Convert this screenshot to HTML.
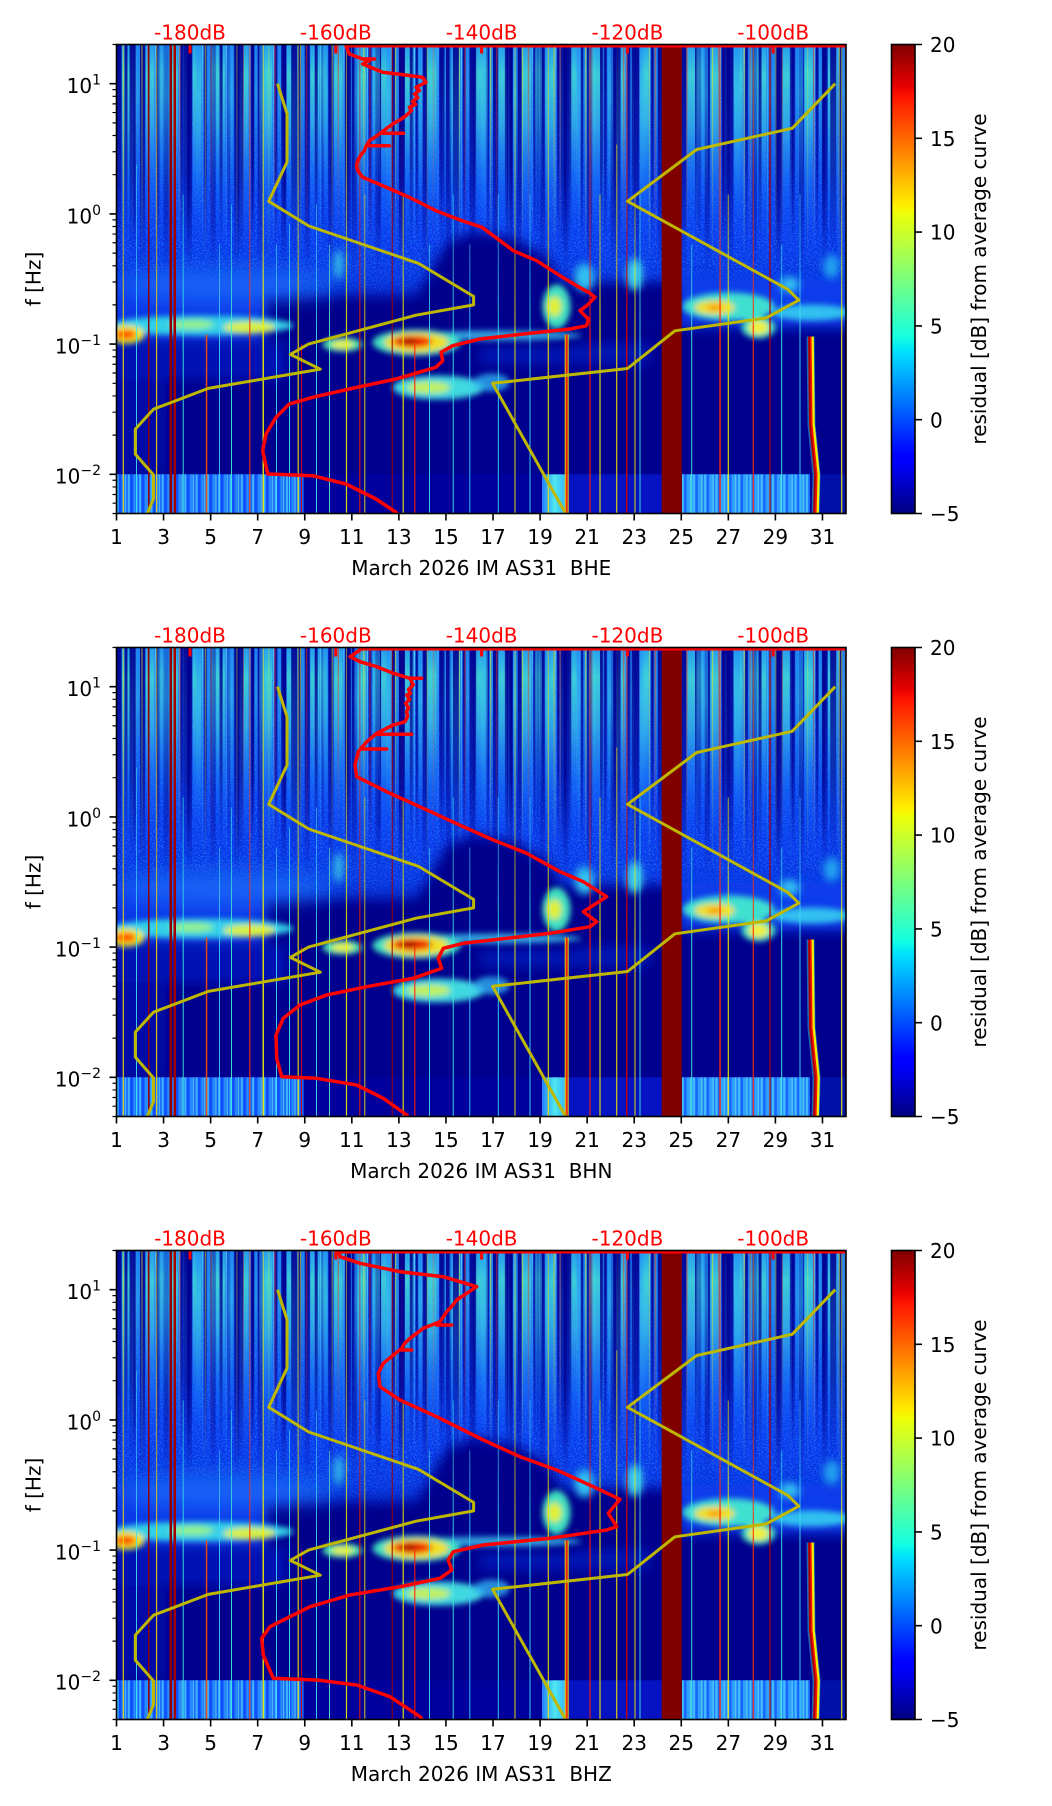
<!DOCTYPE html>
<html><head><meta charset="utf-8"><style>
html,body{margin:0;padding:0;background:#fff;}
svg{display:block;}
text{font-family:"DejaVu Sans","Liberation Sans",sans-serif;}
</style></head><body>
<svg xmlns="http://www.w3.org/2000/svg" width="1052" height="1806" viewBox="0 0 1052 1806">
<defs>
<clipPath id="clipAx"><rect x="0" y="0" width="729.5" height="469"/></clipPath>
<filter id="b3" x="-20%" y="-50%" width="140%" height="200%"><feGaussianBlur stdDeviation="3"/></filter>
<filter id="b4" x="-20%" y="-50%" width="140%" height="200%"><feGaussianBlur stdDeviation="4"/></filter>
<filter id="b6" x="-20%" y="-50%" width="140%" height="200%"><feGaussianBlur stdDeviation="6"/></filter>
<filter id="b10" x="-20%" y="-50%" width="140%" height="200%"><feGaussianBlur stdDeviation="10"/></filter>
<filter id="speck" x="0" y="0" width="1" height="1" color-interpolation-filters="sRGB">
 <feTurbulence type="fractalNoise" baseFrequency="0.7" numOctaves="1" seed="7" result="n"/>
 <feColorMatrix in="n" type="matrix" values="0 0 0 0 0.15  0 0 0 0 0.65  0 0 0 0 1  3 0 0 0 -1.3" result="c"/>
 <feComposite in="c" in2="SourceGraphic" operator="in"/>
</filter>
<linearGradient id="jet" x1="0" y1="1" x2="0" y2="0">
 <stop offset="0" stop-color="#000080"/><stop offset="0.11" stop-color="#0000ff"/><stop offset="0.125" stop-color="#0000ff"/>
 <stop offset="0.34" stop-color="#00dbff"/><stop offset="0.35" stop-color="#00e5f7"/><stop offset="0.375" stop-color="#14ffe2"/>
 <stop offset="0.5" stop-color="#7bff7b"/><stop offset="0.64" stop-color="#eeff08"/><stop offset="0.65" stop-color="#f7f500"/>
 <stop offset="0.66" stop-color="#ffec00"/><stop offset="0.89" stop-color="#ff1300"/><stop offset="0.91" stop-color="#e80000"/>
 <stop offset="1" stop-color="#800000"/>
</linearGradient>
<linearGradient id="gUpper" x1="0" y1="0" x2="0" y2="1">
 <stop offset="0" stop-color="#1450e0"/><stop offset="0.5" stop-color="#0c3cf0"/><stop offset="0.7" stop-color="#0a34ec"/>
 <stop offset="0.82" stop-color="#0830e0"/><stop offset="0.92" stop-color="#0628d0" stop-opacity="0.8"/><stop offset="1" stop-color="#0020c0" stop-opacity="0"/>
</linearGradient>
<linearGradient id="gDark" x1="0" y1="0" x2="0" y2="1">
 <stop offset="0" stop-color="#000090" stop-opacity="0.9"/><stop offset="0.6" stop-color="#000090" stop-opacity="0.6"/><stop offset="1" stop-color="#000090" stop-opacity="0"/>
</linearGradient>
<linearGradient id="gCyan" x1="0" y1="0" x2="0" y2="1">
 <stop offset="0" stop-color="#28a8f0" stop-opacity="0.85"/><stop offset="0.15" stop-color="#40d8d8" stop-opacity="0.9"/>
 <stop offset="0.4" stop-color="#38c0e8" stop-opacity="0.75"/><stop offset="0.7" stop-color="#1878f8" stop-opacity="0.5"/><stop offset="1" stop-color="#0850ff" stop-opacity="0"/>
</linearGradient>
<linearGradient id="gCyan2" x1="0" y1="0" x2="0" y2="1">
 <stop offset="0" stop-color="#2090f8" stop-opacity="0.7"/><stop offset="0.3" stop-color="#30b8f0" stop-opacity="0.6"/><stop offset="1" stop-color="#2090f8" stop-opacity="0"/>
</linearGradient>
<linearGradient id="gCLine" x1="0" y1="0" x2="0" y2="1">
 <stop offset="0" stop-color="#60f0ff" stop-opacity="0.8"/><stop offset="1" stop-color="#60f0ff" stop-opacity="0"/>
</linearGradient>
<linearGradient id="gYLine" x1="0" y1="0" x2="0" y2="1">
 <stop offset="0" stop-color="#f0f000" stop-opacity="0.7"/><stop offset="1" stop-color="#f0f000" stop-opacity="0"/>
</linearGradient>
<linearGradient id="gRLine" x1="0" y1="0" x2="0" y2="1">
 <stop offset="0" stop-color="#ff3000" stop-opacity="0.6"/><stop offset="1" stop-color="#ff3000" stop-opacity="0"/>
</linearGradient>
<linearGradient id="gSpeck" x1="0" y1="0" x2="0" y2="1">
 <stop offset="0" stop-color="#fff" stop-opacity="0.6"/><stop offset="0.75" stop-color="#fff" stop-opacity="0.7"/><stop offset="1" stop-color="#fff" stop-opacity="0"/>
</linearGradient>
<linearGradient id="gMask" x1="0" y1="0" x2="0" y2="1">
 <stop offset="0" stop-color="#888"/><stop offset="0.45" stop-color="#aaa"/><stop offset="0.62" stop-color="#fff"/><stop offset="1" stop-color="#fff"/>
</linearGradient>
<mask id="mLines" maskUnits="userSpaceOnUse" x="0" y="0" width="729.5" height="469">
 <rect x="0" y="0" width="729.5" height="469" fill="url(#gMask)"/>
</mask>
<linearGradient id="gCyanStrip" x1="0" y1="0" x2="1" y2="0">
 <stop offset="0" stop-color="#2080ff"/><stop offset="0.5" stop-color="#50e8f0"/><stop offset="1" stop-color="#30b0ff"/>
</linearGradient>
<pattern id="pStreak" patternUnits="userSpaceOnUse" x="0" y="0" width="23.53" height="469">
 <rect x="0" y="0" width="5" height="230" fill="url(#gDark)"/>
 <rect x="5.5" y="0" width="9" height="200" fill="url(#gCyan)"/>
 <rect x="15" y="0" width="1.2" height="210" fill="url(#gCLine)"/>
 <rect x="17" y="0" width="2.5" height="200" fill="url(#gDark)"/>
 <rect x="20" y="0" width="3.5" height="160" fill="url(#gCyan2)"/>
</pattern>
<pattern id="pStreak2" patternUnits="userSpaceOnUse" x="5" y="0" width="31.7" height="469">
 <rect x="3" y="0" width="3" height="200" fill="url(#gDark)"/>
 <rect x="11" y="0" width="5" height="170" fill="url(#gCyan2)"/>
 <rect x="20" y="0" width="1" height="220" fill="url(#gYLine)"/>
 <rect x="26" y="0" width="1.2" height="200" fill="url(#gRLine)"/>
</pattern>
<pattern id="pStreak3" patternUnits="userSpaceOnUse" x="11" y="0" width="53.9" height="469">
 <rect x="2" y="0" width="6" height="215" fill="url(#gDark)"/>
 <rect x="30" y="0" width="7" height="180" fill="url(#gCyan)" opacity="0.6"/>
</pattern>
<pattern id="pCols" patternUnits="userSpaceOnUse" x="0" y="0" width="11.3" height="469">
 <rect x="0" y="0" width="2" height="469" fill="#50d0ff"/>
 <rect x="2.5" y="0" width="2.5" height="469" fill="#0840ff"/>
 <rect x="6" y="0" width="1.5" height="469" fill="#30a0ff"/>
 <rect x="8.5" y="0" width="1" height="469" fill="#70f0e0"/>
 <rect x="10" y="0" width="1.3" height="469" fill="#1060ff"/>
</pattern>

<g id="spec" clip-path="url(#clipAx)">
 <rect width="729.5" height="469" fill="#00008e"/>
 <rect width="729.5" height="285" fill="url(#gUpper)"/>
 <rect width="729.5" height="290" fill="url(#gSpeck)" filter="url(#speck)" opacity="0.8"/>
 <rect width="729.5" height="235" fill="url(#pStreak)"/>
 <rect width="729.5" height="235" fill="url(#pStreak2)"/>
 <rect width="729.5" height="235" fill="url(#pStreak3)"/>
 <g filter="url(#b6)">
  <rect x="-10" y="235" width="185" height="62" fill="#0a3cf0" opacity="0.85"/>
  <rect x="-10" y="300" width="180" height="35" fill="#0020d0" opacity="0.6"/>
  <rect x="560" y="235" width="180" height="48" fill="#0a40f0" opacity="0.85"/>
  <rect x="363" y="298" width="170" height="22" fill="#0828d8" opacity="0.5"/>
  <rect x="-10" y="335" width="60" height="95" fill="#0018c0" opacity="0.5"/>
 </g>
 <path d="M150,252 L300,252 L330,198 L360,186 L400,195 L430,212 L445,238 L560,238 L560,282 L460,290 L460,300 L150,300 Z" fill="#00008c" filter="url(#b6)"/>
 <g filter="url(#b10)">
  <ellipse cx="110" cy="240" rx="110" ry="18" fill="#2080ff" opacity="0.55"/>
 </g>
 <g filter="url(#b4)">
  <ellipse cx="222" cy="220" rx="5" ry="15" fill="#40d8e8" opacity="0.8"/>
  <ellipse cx="468" cy="233" rx="10" ry="14" fill="#30c0f0"/>
  <ellipse cx="518" cy="230" rx="8" ry="16" fill="#40d0e8"/>
  <ellipse cx="715" cy="222" rx="8" ry="12" fill="#20a0f0"/>
  <ellipse cx="673" cy="240" rx="10" ry="8" fill="#30c0f0"/>
 </g>
 <g filter="url(#b3)">
  <ellipse cx="85" cy="281" rx="92" ry="10" fill="#30d0e8"/>
  <ellipse cx="133" cy="283" rx="26" ry="6" fill="#d8f040"/>
  <ellipse cx="75" cy="280" rx="22" ry="5" fill="#90f090"/>
  <ellipse cx="10" cy="290" rx="18" ry="9" fill="#f0f020"/>
  <ellipse cx="9" cy="290" rx="11" ry="5" fill="#ff5000"/>
  <ellipse cx="380" cy="291" rx="85" ry="5" fill="#40c8f0" opacity="0.8"/>
  <ellipse cx="226" cy="300" rx="20" ry="7" fill="#50e8b0"/>
  <ellipse cx="226" cy="300" rx="11" ry="4" fill="#e8f040"/>
  <ellipse cx="300" cy="298" rx="44" ry="13" fill="#40e0c0"/>
  <ellipse cx="300" cy="298" rx="32" ry="10" fill="#f0e020"/>
  <ellipse cx="296" cy="297" rx="20" ry="6" fill="#f02000"/>
  <ellipse cx="292" cy="297" rx="9" ry="3" fill="#a00000"/>
  <ellipse cx="322" cy="343" rx="46" ry="12" fill="#40d8e0"/>
  <ellipse cx="312" cy="343" rx="22" ry="6" fill="#c0f060"/>
  <ellipse cx="375" cy="338" rx="18" ry="9" fill="#30b0f0" opacity="0.8"/>
  <ellipse cx="440" cy="262" rx="14" ry="22" fill="#40e0c0"/>
  <ellipse cx="438" cy="262" rx="7" ry="10" fill="#e0f030"/>
  <ellipse cx="612" cy="262" rx="46" ry="14" fill="#40e0d0"/>
  <ellipse cx="598" cy="263" rx="20" ry="7" fill="#f0e020"/>
  <ellipse cx="598" cy="263" rx="7" ry="3" fill="#ff9000"/>
  <ellipse cx="695" cy="268" rx="40" ry="8" fill="#30c0f0"/>
  <ellipse cx="642" cy="283" rx="17" ry="11" fill="#40e0c0"/>
  <ellipse cx="642" cy="283" rx="10" ry="7" fill="#f0f040"/>
 </g>
 <!-- bottom strip -->
 <rect x="0" y="429.8" width="187" height="40" fill="#1c70ff"/>
 <rect x="0" y="429.8" width="187" height="40" fill="url(#pCols)" opacity="0.7"/>
 <rect x="187" y="429.8" width="238.5" height="40" fill="#0000b8" opacity="0.35"/>
 <rect x="425.5" y="429.8" width="25" height="40" fill="url(#gCyanStrip)"/>
 <rect x="450.5" y="429.8" width="95" height="40" fill="#0818d0" opacity="0.8"/>
 <rect x="565.5" y="429.8" width="128" height="40" fill="#30a0ff"/>
 <rect x="565.5" y="429.8" width="128" height="40" fill="url(#pCols)" opacity="0.6"/>
 <rect x="701" y="429.8" width="28.5" height="40" fill="#0010a8"/>
 <!-- thin lines -->
 <g opacity="0.9" mask="url(#mLines)">
  <rect x="6.2" y="0" width="1.2" height="469" fill="#f0e000"/>
  <rect x="19.5" y="120" width="1" height="349" fill="#40e0f0"/>
  <rect x="39.5" y="0" width="1.2" height="469" fill="#f0d000"/>
  <rect x="66.2" y="150" width="1" height="319" fill="#40f0e0"/>
  <rect x="89.3" y="290" width="1.5" height="179" fill="#ff5000"/>
  <rect x="102.5" y="200" width="1" height="269" fill="#40d0ff"/>
  <rect x="114.5" y="160" width="1" height="309" fill="#40f0d0"/>
  <rect x="132.7" y="0" width="1.2" height="469" fill="#ff3000"/>
  <rect x="146" y="0" width="1.5" height="469" fill="#f0f000"/>
  <rect x="159.5" y="200" width="1" height="269" fill="#40e0ff"/>
  <rect x="172.5" y="180" width="1" height="289" fill="#40f0e0"/>
  <rect x="181.1" y="0" width="1.2" height="469" fill="#f0e000"/>
  <rect x="184.5" y="300" width="1" height="169" fill="#e00000"/>
  <rect x="199.5" y="160" width="1" height="309" fill="#40e0f0"/>
  <rect x="212.5" y="200" width="1" height="269" fill="#60f0c0"/>
  <rect x="229.4" y="0" width="1.2" height="469" fill="#f0f000"/>
  <rect x="242.7" y="0" width="1.2" height="469" fill="#e02000"/>
  <rect x="247.8" y="150" width="1" height="319" fill="#f0e000"/>
  <rect x="286.1" y="150" width="1.2" height="319" fill="#f0f000"/>
  <rect x="297.7" y="300" width="1.2" height="169" fill="#ff2000"/>
  <rect x="312.5" y="200" width="1" height="269" fill="#40e0f0"/>
  <rect x="336.2" y="150" width="1" height="319" fill="#40f0e0"/>
  <rect x="352.8" y="200" width="1" height="269" fill="#40d0ff"/>
  <rect x="381.3" y="150" width="1" height="319" fill="#40e0f0"/>
  <rect x="398" y="0" width="1" height="469" fill="#f0f000"/>
  <rect x="413" y="150" width="1" height="319" fill="#40e0f0"/>
  <rect x="431.2" y="0" width="1.2" height="469" fill="#f0e000"/>
  <rect x="448.2" y="290" width="4" height="179" fill="#f0e000"/>
  <rect x="449.2" y="290" width="2" height="179" fill="#ff2000"/>
  <rect x="472.9" y="0" width="1.2" height="469" fill="#ff2000"/>
  <rect x="482.9" y="150" width="1.2" height="319" fill="#f0f000"/>
  <rect x="499.6" y="100" width="1.2" height="369" fill="#f0e000"/>
  <rect x="509.5" y="0" width="1.5" height="469" fill="#d00000"/>
  <rect x="518" y="150" width="1" height="319" fill="#f0f000"/>
  <rect x="523" y="150" width="1" height="319" fill="#40f0e0"/>
  <rect x="574.7" y="200" width="1" height="269" fill="#40f0e0"/>
  <rect x="602.8" y="0" width="1.5" height="469" fill="#ff3000"/>
  <rect x="611.2" y="150" width="1.2" height="319" fill="#f0f000"/>
  <rect x="636.2" y="0" width="1.2" height="469" fill="#ff3000"/>
  <rect x="664.7" y="200" width="1" height="269" fill="#40f0e0"/>
  <rect x="683" y="150" width="1" height="319" fill="#40e0f0"/>
  <rect x="724.6" y="0" width="1.2" height="469" fill="#f0f000"/>
 </g>
 <!-- dark red lines and stripe -->
 <rect x="31.5" y="0" width="1.5" height="469" fill="#900000"/>
 <rect x="53" y="0" width="2.5" height="469" fill="#900000"/>
 <rect x="57" y="0" width="2.5" height="469" fill="#a00000"/>
 <rect x="275.2" y="0" width="1" height="469" fill="#a00000"/>
 <rect x="652.9" y="0" width="1.2" height="469" fill="#b00000"/>
 <rect x="545.2" y="0" width="20" height="469" fill="#800000"/>
 <!-- day 30.7 line -->
 <path d="M694,292 L695,380 L698,410 L700,430 L699,470" fill="none" stroke="#40e0e0" stroke-width="8" opacity="0.45"/>
 <path d="M694.8,292 L695.8,380 L698.8,410 L700.8,430 L699.8,470" fill="none" stroke="#f0f000" stroke-width="5"/>
 <path d="M693.3,292 L694.3,380 L697.3,410 L699.3,430 L698.3,470" fill="none" stroke="#ff1000" stroke-width="3.5"/>
 <path d="M692.6,292 L693.6,380 L696.6,410 L698.6,430 L697.6,470" fill="none" stroke="#a00000" stroke-width="1.6"/>
</g>

<g id="nm" clip-path="url(#clipAx)" fill="none" stroke="#bfb800" stroke-width="3" stroke-linejoin="round">
 <polyline points="161.0,39.2 170.5,69.2 170.5,117.6 152.2,156.8 192.3,181.5 302.1,218.9 357.1,251.9 357.1,260.4 299.5,270.7 192.0,299.6 173.8,309.9 203.8,324.7 91.7,343.9 37.0,364.7 18.8,384.6 18.8,409.6 37.0,430.4 37.0,454.2 30.8,469.0"/>
 <polyline points="718.7,39.2 675.7,83.8 580.2,105.0 511.0,156.8 671.4,244.9 682.3,255.7 649.5,273.5 558.4,286.3 511.0,324.0 376.1,338.8 449.1,469.0"/>
</g>

<g id="axdec">
 <g fill="#ff0000">
  <rect x="72" y="0" width="3" height="9"/><rect x="217.8" y="0" width="3" height="9"/><rect x="363.6" y="0" width="3" height="9"/><rect x="509.4" y="0" width="3" height="9"/><rect x="655.2" y="0" width="3" height="9"/>
 </g>
 <path d="M0,469v7M47.06,469v7M94.13,469v7M141.19,469v7M188.26,469v7M235.32,469v7M282.39,469v7M329.45,469v7M376.52,469v7M423.58,469v7M470.65,469v7M517.71,469v7M564.77,469v7M611.84,469v7M658.9,469v7M705.97,469v7M0,39.19h-7M0,169.39h-7M0,299.59h-7M0,429.79h-7" stroke="#000" stroke-width="1.6" fill="none"/>
 <path d="M0,0h-4M0,45.16h-4M0,51.82h-4M0,59.37h-4M0,68.08h-4M0,78.39h-4M0,91.03h-4M0,107.27h-4M0,130.2h-4M0,175.36h-4M0,182.02h-4M0,189.57h-4M0,198.28h-4M0,208.59h-4M0,221.23h-4M0,237.47h-4M0,260.4h-4M0,305.56h-4M0,312.22h-4M0,319.77h-4M0,328.48h-4M0,338.79h-4M0,351.43h-4M0,367.67h-4M0,390.6h-4M0,435.76h-4M0,442.42h-4M0,449.97h-4M0,458.68h-4M0,469h-4" stroke="#000" stroke-width="1.2" fill="none"/>
 <rect x="0" y="0" width="729.5" height="469" fill="none" stroke="#000" stroke-width="1.6"/>
</g>

<g id="cbar">
 <rect x="0" y="0" width="23.5" height="469" fill="url(#jet)" stroke="#000" stroke-width="1.6"/>
 <path d="M23.5,0h7M23.5,93.8h7M23.5,187.6h7M23.5,281.4h7M23.5,375.2h7M23.5,469h7" stroke="#000" stroke-width="1.6"/>
</g>
</defs>

<!-- ================= PLOT 1 ================= -->
<g transform="translate(116.5,44.5)">
 <use href="#spec"/>
 <g clip-path="url(#clipAx)" fill="none" stroke="#ff0000" stroke-width="3.5" stroke-linejoin="round" stroke-linecap="round">
  <line x1="229.5" y1="1.5" x2="729.5" y2="1.5" stroke-width="3"/>
  <polyline points="229.5,1.5 232.8,9.5 246.2,14.5 254.5,15 246.2,19.5 266.2,27.8 285,30 306.2,32.8 309.5,37.8 299.5,42.8 303,46 298,49.5 301.2,53 296,57 299,60 292.8,62.8 295,66 289.5,71.2 284,75 276.2,79.5 270,84 262.8,89.5 258,93 252.8,96.2 250,101 247.8,106.2 244,111 241.2,116.2 240,121 241.2,126.2 246.2,132.8 266.2,141.2 292.8,152.8 319.5,166.2 345,176 365.5,182.8 383.5,196.2 396.8,206.2 420.2,216.2 443.5,231.2 460.2,241.2 473.5,248.8 478.5,252.8 470.2,261.2 463.5,266.2 471.8,274.5 470.2,281.2 453.5,284.5 413.5,288.8 363.5,294.5 336.2,301.2 324.5,307.8 326.2,316.2 319.5,322.8 279.5,334.5 232.8,344.5 196.2,352.8 172.8,359.5 159.5,372.8 149.5,389.5 146.2,406.2 151.2,429.5 196.2,431.2 229.5,439.5 259.5,454.5 279.5,467.8 283,472"/>
  <path d="M266,88.8H287M252.8,101.2H272.8M246,14.5H258"/>
 </g>
 <use href="#nm"/>
 <use href="#axdec"/>
</g>
<g transform="translate(891.5,44.5)"><use href="#cbar"/></g>
<g font-size="20" fill="#ff0000" text-anchor="middle">
 <text x="190" y="39.5">-180dB</text><text x="335.8" y="39.5">-160dB</text><text x="481.6" y="39.5">-140dB</text><text x="627.4" y="39.5">-120dB</text><text x="773.2" y="39.5">-100dB</text>
</g>
<g font-size="20" fill="#000" text-anchor="end">
 <text x="101" y="93.1">10<tspan font-size="14" dy="-8.5">1</tspan></text>
 <text x="101" y="223.3">10<tspan font-size="14" dy="-8.5">0</tspan></text>
 <text x="101" y="353.5">10<tspan font-size="14" dy="-8.5">−1</tspan></text>
 <text x="101" y="483.7">10<tspan font-size="14" dy="-8.5">−2</tspan></text>
</g>
<g font-size="20" fill="#000" text-anchor="middle">
 <text x="116.5" y="544">1</text><text x="163.56" y="544">3</text><text x="210.63" y="544">5</text><text x="257.69" y="544">7</text><text x="304.76" y="544">9</text><text x="351.82" y="544">11</text><text x="398.89" y="544">13</text><text x="445.95" y="544">15</text><text x="493.02" y="544">17</text><text x="540.08" y="544">19</text><text x="587.15" y="544">21</text><text x="634.21" y="544">23</text><text x="681.27" y="544">25</text><text x="728.34" y="544">27</text><text x="775.4" y="544">29</text><text x="822.47" y="544">31</text>
 <text x="481.25" y="575" style="white-space:pre">March 2026 IM AS31  BHE</text>
 <text transform="translate(40.5,279) rotate(-90)">f [Hz]</text>
 <text transform="translate(986,279) rotate(-90)">residual [dB] from average curve</text>
</g>
<g font-size="20" fill="#000">
 <text x="930" y="52.1">20</text><text x="930" y="145.9">15</text><text x="930" y="239.7">10</text><text x="930" y="333.5">5</text><text x="930" y="427.3">0</text><text x="930" y="521.1">−5</text>
</g>

<!-- ================= PLOT 2 ================= -->
<g transform="translate(116.5,647.5)">
 <use href="#spec"/>
 <g clip-path="url(#clipAx)" fill="none" stroke="#ff0000" stroke-width="3.5" stroke-linejoin="round" stroke-linecap="round">
  <line x1="243.5" y1="1.5" x2="729.5" y2="1.5" stroke-width="3"/>
  <polyline points="243.5,1.5 243.5,2.5 233.5,9.2 243.5,14.2 260.2,19.2 276.8,25.8 293.5,30.8 296.8,37.5 292,42 294,46 290.2,47.5 293,52 289,56 292,60 290.2,64.2 291,69 288.5,74.2 276.8,77.5 260.2,85.8 250.2,94.2 241.8,104.2 238.5,117.5 240.2,129.2 250.2,134.2 273.5,145.8 306.8,160.8 346.8,179.2 376.8,192.5 410.2,205.8 443.5,224.2 466.8,234.2 490.2,249.2 466.8,264.2 480.2,274.2 473.5,279.2 433.5,285.8 346.8,295.8 326.8,300.8 321.8,310.8 325.2,320.8 296.8,330.8 250.2,339.2 210.2,347.5 183.5,357.5 166.8,370.8 159.5,387.5 160.2,410.8 165.2,429.2 200.2,430.8 240.2,437.5 266.8,450.8 290.2,467.5 293,471"/>
  <path d="M260.2,86.8H295.2M246.5,101.5H270.2M293.5,30.8H305.2"/>
 </g>
 <use href="#nm"/>
 <use href="#axdec"/>
</g>
<g transform="translate(891.5,647.5)"><use href="#cbar"/></g>
<g font-size="20" fill="#ff0000" text-anchor="middle">
 <text x="190" y="642.5">-180dB</text><text x="335.8" y="642.5">-160dB</text><text x="481.6" y="642.5">-140dB</text><text x="627.4" y="642.5">-120dB</text><text x="773.2" y="642.5">-100dB</text>
</g>
<g font-size="20" fill="#000" text-anchor="end">
 <text x="101" y="696.1">10<tspan font-size="14" dy="-8.5">1</tspan></text>
 <text x="101" y="826.3">10<tspan font-size="14" dy="-8.5">0</tspan></text>
 <text x="101" y="956.5">10<tspan font-size="14" dy="-8.5">−1</tspan></text>
 <text x="101" y="1086.7">10<tspan font-size="14" dy="-8.5">−2</tspan></text>
</g>
<g font-size="20" fill="#000" text-anchor="middle">
 <text x="116.5" y="1147">1</text><text x="163.56" y="1147">3</text><text x="210.63" y="1147">5</text><text x="257.69" y="1147">7</text><text x="304.76" y="1147">9</text><text x="351.82" y="1147">11</text><text x="398.89" y="1147">13</text><text x="445.95" y="1147">15</text><text x="493.02" y="1147">17</text><text x="540.08" y="1147">19</text><text x="587.15" y="1147">21</text><text x="634.21" y="1147">23</text><text x="681.27" y="1147">25</text><text x="728.34" y="1147">27</text><text x="775.4" y="1147">29</text><text x="822.47" y="1147">31</text>
 <text x="481.25" y="1178" style="white-space:pre">March 2026 IM AS31  BHN</text>
 <text transform="translate(40.5,882) rotate(-90)">f [Hz]</text>
 <text transform="translate(986,882) rotate(-90)">residual [dB] from average curve</text>
</g>
<g font-size="20" fill="#000">
 <text x="930" y="655.1">20</text><text x="930" y="748.9">15</text><text x="930" y="842.7">10</text><text x="930" y="936.5">5</text><text x="930" y="1030.3">0</text><text x="930" y="1124.1">−5</text>
</g>

<!-- ================= PLOT 3 ================= -->
<g transform="translate(116.5,1250.5)">
 <use href="#spec"/>
 <g clip-path="url(#clipAx)" fill="none" stroke="#ff0000" stroke-width="3.5" stroke-linejoin="round" stroke-linecap="round">
  <line x1="221.5" y1="1.5" x2="729.5" y2="1.5" stroke-width="3"/>
  <polyline points="221.5,1.5 221.8,1.2 223.5,6.2 243.5,12.8 283.5,21.2 326.8,26.2 360.2,36.2 350.2,42.8 340.2,49.5 336,55 330.2,61.2 327,66 323.5,71.2 306.8,77.8 293.5,87.8 288,93 285.2,97.8 266.8,112.8 261.8,122.8 263.5,136.2 283.5,149.5 320.2,166.2 366.8,189.5 403.5,206.2 440.2,219.5 476.8,236.2 503.5,248.8 491.8,262.8 500.2,276.2 490.2,279.5 433.5,287.8 366.8,294.5 336.8,301.2 331.8,309.5 335.2,319.5 323.5,327.8 283.5,336.2 233.5,344.5 193.5,356.2 166.8,369.5 153.5,376.2 145.2,387.8 146.8,404.5 156.8,427.8 200.2,429.5 240.2,434.5 273.5,446.2 303.5,466.2 307,471"/>
  <path d="M320.2,74.5H335.2M285.2,99.5H295.2"/>
 </g>
 <use href="#nm"/>
 <use href="#axdec"/>
</g>
<g transform="translate(891.5,1250.5)"><use href="#cbar"/></g>
<g font-size="20" fill="#ff0000" text-anchor="middle">
 <text x="190" y="1245.5">-180dB</text><text x="335.8" y="1245.5">-160dB</text><text x="481.6" y="1245.5">-140dB</text><text x="627.4" y="1245.5">-120dB</text><text x="773.2" y="1245.5">-100dB</text>
</g>
<g font-size="20" fill="#000" text-anchor="end">
 <text x="101" y="1299.1">10<tspan font-size="14" dy="-8.5">1</tspan></text>
 <text x="101" y="1429.3">10<tspan font-size="14" dy="-8.5">0</tspan></text>
 <text x="101" y="1559.5">10<tspan font-size="14" dy="-8.5">−1</tspan></text>
 <text x="101" y="1689.7">10<tspan font-size="14" dy="-8.5">−2</tspan></text>
</g>
<g font-size="20" fill="#000" text-anchor="middle">
 <text x="116.5" y="1750">1</text><text x="163.56" y="1750">3</text><text x="210.63" y="1750">5</text><text x="257.69" y="1750">7</text><text x="304.76" y="1750">9</text><text x="351.82" y="1750">11</text><text x="398.89" y="1750">13</text><text x="445.95" y="1750">15</text><text x="493.02" y="1750">17</text><text x="540.08" y="1750">19</text><text x="587.15" y="1750">21</text><text x="634.21" y="1750">23</text><text x="681.27" y="1750">25</text><text x="728.34" y="1750">27</text><text x="775.4" y="1750">29</text><text x="822.47" y="1750">31</text>
 <text x="481.25" y="1781" style="white-space:pre">March 2026 IM AS31  BHZ</text>
 <text transform="translate(40.5,1485) rotate(-90)">f [Hz]</text>
 <text transform="translate(986,1485) rotate(-90)">residual [dB] from average curve</text>
</g>
<g font-size="20" fill="#000">
 <text x="930" y="1258.1">20</text><text x="930" y="1351.9">15</text><text x="930" y="1445.7">10</text><text x="930" y="1539.5">5</text><text x="930" y="1633.3">0</text><text x="930" y="1727.1">−5</text>
</g>
</svg>
</body></html>
